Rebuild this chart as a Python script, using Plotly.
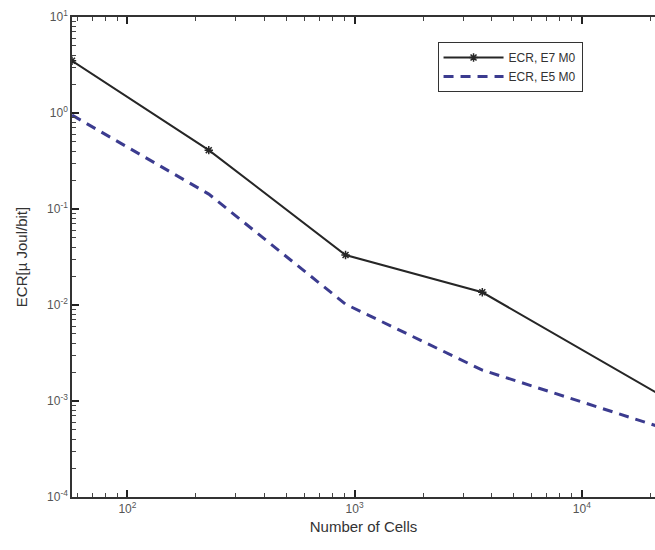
import numpy as np
import plotly.graph_objects as go

# Number of cells simulated
cells = [57, 228, 912, 3648, 23000]

# Energy consumption ratio [µJ/bit]
ecr_e7_m0 = [3.5, 0.41, 0.0332, 0.01356, 1.1e-3]
ecr_e5_m0 = [0.95, 0.143, 0.0102, 0.0021, 5.2e-4]

# Decade tick positions and labels
x_decades = [2, 3, 4]
y_decades = [-4, -3, -2, -1, 0, 1]

x_range = [np.log10(57), np.log10(21000)]
y_range = [-4, 1]


def decade_ticks(exps):
    vals = [10.0 ** e for e in exps]
    text = ["10<sup>%d</sup>" % e for e in exps]
    return vals, text


def minor_ticks(lo, hi):
    vals = []
    for e in range(int(np.floor(lo)), int(np.ceil(hi)) + 1):
        for m in range(2, 10):
            v = m * 10.0 ** e
            if lo <= np.log10(v) <= hi:
                vals.append(v)
    return vals


xt_vals, xt_text = decade_ticks(x_decades)
yt_vals, yt_text = decade_ticks(y_decades)

fig = go.Figure()

fig.add_trace(go.Scatter(
    x=cells, y=ecr_e7_m0, mode="lines+markers", name="ECR, E7 M0",
    line=dict(color="#262626", width=2),
    marker=dict(symbol="asterisk-open", size=7, color="#262626",
                line=dict(color="#262626", width=1.5)),
))
fig.add_trace(go.Scatter(
    x=cells, y=ecr_e5_m0, mode="lines", name="ECR, E5 M0",
    line=dict(color="#3b3b8f", width=3, dash="10px,7px"),
))

font_family = "Liberation Sans, Arial, sans-serif"
axis_font = dict(family=font_family, size=12, color="#555")

fig.update_xaxes(
    type="log", range=x_range,
    tickmode="array", tickvals=xt_vals, ticktext=xt_text,
    showgrid=False, zeroline=False, showline=True, linecolor="#333", linewidth=1.5,
    mirror="ticks", ticks="inside", ticklen=7, tickwidth=1.5, tickcolor="#222",
    minor=dict(tickmode="array", tickvals=minor_ticks(*x_range),
               ticks="inside", ticklen=4, tickwidth=1, tickcolor="#444", showgrid=False),
    tickfont=axis_font,
    title=dict(text="Number of Cells", standoff=6,
               font=dict(family=font_family, size=15, color="#333")),
)
fig.update_yaxes(
    type="log", range=y_range,
    tickmode="array", tickvals=yt_vals, ticktext=yt_text,
    showgrid=False, zeroline=False, showline=True, linecolor="#333", linewidth=1.5,
    ticks="inside", ticklen=7, tickwidth=1.5, tickcolor="#222",
    minor=dict(tickmode="array", tickvals=minor_ticks(*y_range),
               ticks="inside", ticklen=4, tickwidth=1, tickcolor="#444", showgrid=False),
    tickfont=axis_font,
    title=dict(text="ECR[µ Joul/bit]", standoff=16,
               font=dict(family=font_family, size=15, color="#333")),
)

fig.update_layout(
    width=655, height=550,
    margin=dict(l=72, r=0, t=17, b=53),
    paper_bgcolor="white", plot_bgcolor="white",
    showlegend=True,
    legend=dict(
        x=0.627, y=0.948, xanchor="left", yanchor="top",
        bgcolor="white", bordercolor="#333", borderwidth=1,
        font=dict(family=font_family, size=12, color="#333"),
        entrywidth=170, entrywidthmode="pixels",
        itemwidth=60, tracegroupgap=0,
    ),
)

fig.write_html("out.html")
